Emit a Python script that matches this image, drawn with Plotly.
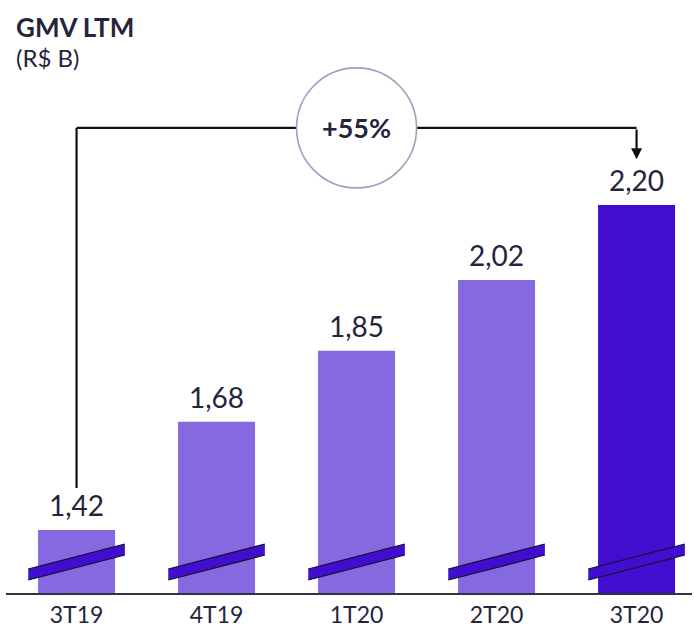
import plotly.graph_objects as go

# GMV over the last twelve months, by quarter (R$ billions)
quarters = ["3T19", "4T19", "1T20", "2T20", "3T20"]
gmv = [1.42, 1.68, 1.85, 2.02, 2.20]
growth_label = "+55%"

LIGHT = "#8669E0"
DARK = "#410ECF"
TEXT = "#26243B"
FONT = "Lato"

bar_colors = [LIGHT] * (len(gmv) - 1) + [DARK]
idx = list(range(len(quarters)))

# Axis geometry: broken y axis starting above zero
y_min, y_max = 1.2688, 2.692
x_min, x_max = -0.504, 4.396

fig = go.Figure(
    go.Bar(
        x=idx,
        y=gmv,
        width=0.55,
        marker=dict(color=bar_colors, line=dict(width=0)),
        hoverinfo="skip",
    )
)

shapes = []
annotations = []

# Value labels above the bars
for i, v in zip(idx, gmv):
    annotations.append(dict(
        x=i, y=v, xref="x", yref="y",
        text=f"{v:.2f}".replace(".", ","),
        showarrow=False, yanchor="bottom", yshift=6,
        font=dict(family=FONT, size=28, color=TEXT),
    ))

# Slanted break marks across each bar
half = 0.345
for i in idx:
    yl_b, yl_t = 1.300, 1.3264
    yr_b, yr_t = 1.360, 1.3864
    shapes.append(dict(
        type="path", xref="x", yref="y",
        path=(f"M {i-half},{yl_b} L {i+half},{yr_b} "
              f"L {i+half},{yr_t} L {i-half},{yl_t} Z"),
        fillcolor=DARK, line=dict(width=0), layer="above",
    ))
    for a, b in ((yl_b, yr_b), (yl_t, yr_t)):
        shapes.append(dict(
            type="line", xref="x", yref="y",
            x0=i - half, y0=a, x1=i + half, y1=b,
            line=dict(color="#111122", width=1.2), layer="above",
        ))

# Growth bracket from first to last quarter
first, last = idx[0], idx[-1]
mid = idx[len(idx) // 2]
bracket_y = max(gmv) + 0.185
r_x, r_y = 0.4286, 0.144
line_style = dict(color="#111111", width=2.2)

shapes += [
    dict(type="line", xref="x", yref="y", x0=first, x1=first,
         y0=gmv[0] + 0.101, y1=bracket_y, line=line_style),
    dict(type="line", xref="x", yref="y", x0=first, x1=mid - r_x,
         y0=bracket_y, y1=bracket_y, line=line_style),
    dict(type="line", xref="x", yref="y", x0=mid + r_x, x1=last,
         y0=bracket_y, y1=bracket_y, line=line_style),
    dict(type="circle", xref="x", yref="y",
         x0=mid - r_x, x1=mid + r_x, y0=bracket_y - r_y, y1=bracket_y + r_y,
         fillcolor="white", line=dict(color="#A29EC0", width=1.6)),
]

annotations.append(dict(
    x=last, y=gmv[-1] + 0.11, xref="x", yref="y",
    ax=last, ay=bracket_y, axref="x", ayref="y",
    showarrow=True, arrowhead=2, arrowsize=1.0, arrowwidth=2.2,
    arrowcolor="#111111", text="",
))
annotations.append(dict(
    x=mid, y=bracket_y, xref="x", yref="y", text=f"<b>{growth_label}</b>",
    showarrow=False, font=dict(family=FONT, size=27, color=TEXT, weight=900),
))

# Title block
annotations += [
    dict(x=0, y=1, xref="paper", yref="paper", xanchor="left", yanchor="top",
         xshift=8, yshift=-9, text="<b>GMV LTM</b>", showarrow=False,
         font=dict(family=FONT, size=26, color=TEXT, weight=900)),
    dict(x=0, y=1, xref="paper", yref="paper", xanchor="left", yanchor="top",
         xshift=8, yshift=-41, text="(R$ B)", showarrow=False,
         font=dict(family=FONT, size=24, color=TEXT)),
]

fig.update_layout(
    width=694, height=628,
    margin=dict(l=6, r=2, t=0, b=35),
    paper_bgcolor="white", plot_bgcolor="white",
    showlegend=False,
    shapes=shapes,
    annotations=annotations,
    xaxis=dict(
        range=[x_min, x_max], tickmode="array", tickvals=idx, ticktext=quarters,
        showgrid=False, zeroline=False, showline=True, linecolor="#333340",
        linewidth=1.5, ticks="", ticklabelstandoff=1, automargin=False,
        tickfont=dict(family=FONT, size=23, color=TEXT),
    ),
    yaxis=dict(range=[y_min, y_max], visible=False, showgrid=False,
               zeroline=False, automargin=False),
)

fig.write_html("out.html")
